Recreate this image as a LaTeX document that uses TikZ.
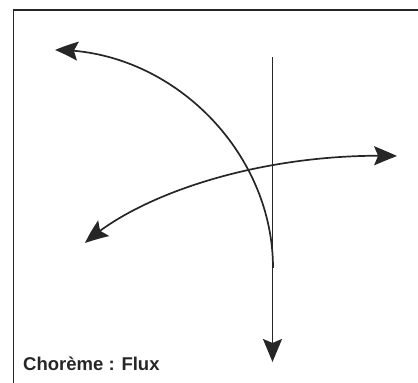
\documentclass[tikz,border=0pt]{standalone}
\usepackage{fontspec}
\setmainfont{Liberation Sans}
\usetikzlibrary{arrows.meta,bending}

\begin{document}
\begin{tikzpicture}[x=1pt, y=-1pt, >={Stealth[length=23pt, width=19pt, inset=4pt, bend]},
    flux/.style={->, line width=1.7pt, draw=black!85},
    cadre/.style={line width=1.4pt, draw=black!85}]

  \useasboundingbox (0,0) rectangle (418,383);

  % Cadre (seulement bord gauche et haut)
  \coordinate (cadreBas) at (13.5,383);
  \coordinate (cadreCoin) at (13.5,10);
  \coordinate (cadreDroite) at (418,10);
  \draw[cadre] (cadreBas) -- (cadreCoin) -- (cadreDroite);

  % Extrémités des flux
  \coordinate (vHaut) at (272.5,57);
  \coordinate (vBas) at (272.5,362);
  \coordinate (arcDepart) at (273,268);
  \coordinate (arcFin) at (55,50);
  \coordinate (hGauche) at (85,243);
  \coordinate (hDroite) at (397,156);

  % Flux vertical
  \draw[flux] (vHaut) -- (vBas);

  % Flux courbe vers le haut-gauche
  \draw[flux] (arcDepart) .. controls (273,150) and (170,49) .. (arcFin);

  % Flux transversal (double sens)
  \draw[flux, <->] (hGauche) .. controls (140,193) and (265,152) .. (hDroite);

  % Titre
  \node[anchor=base west, font=\bfseries\fontsize{18.5}{21}\selectfont, text=black!85, inner sep=0pt] (titre) at (23,370) {Chorème : Flux};

\end{tikzpicture}
\end{document}
